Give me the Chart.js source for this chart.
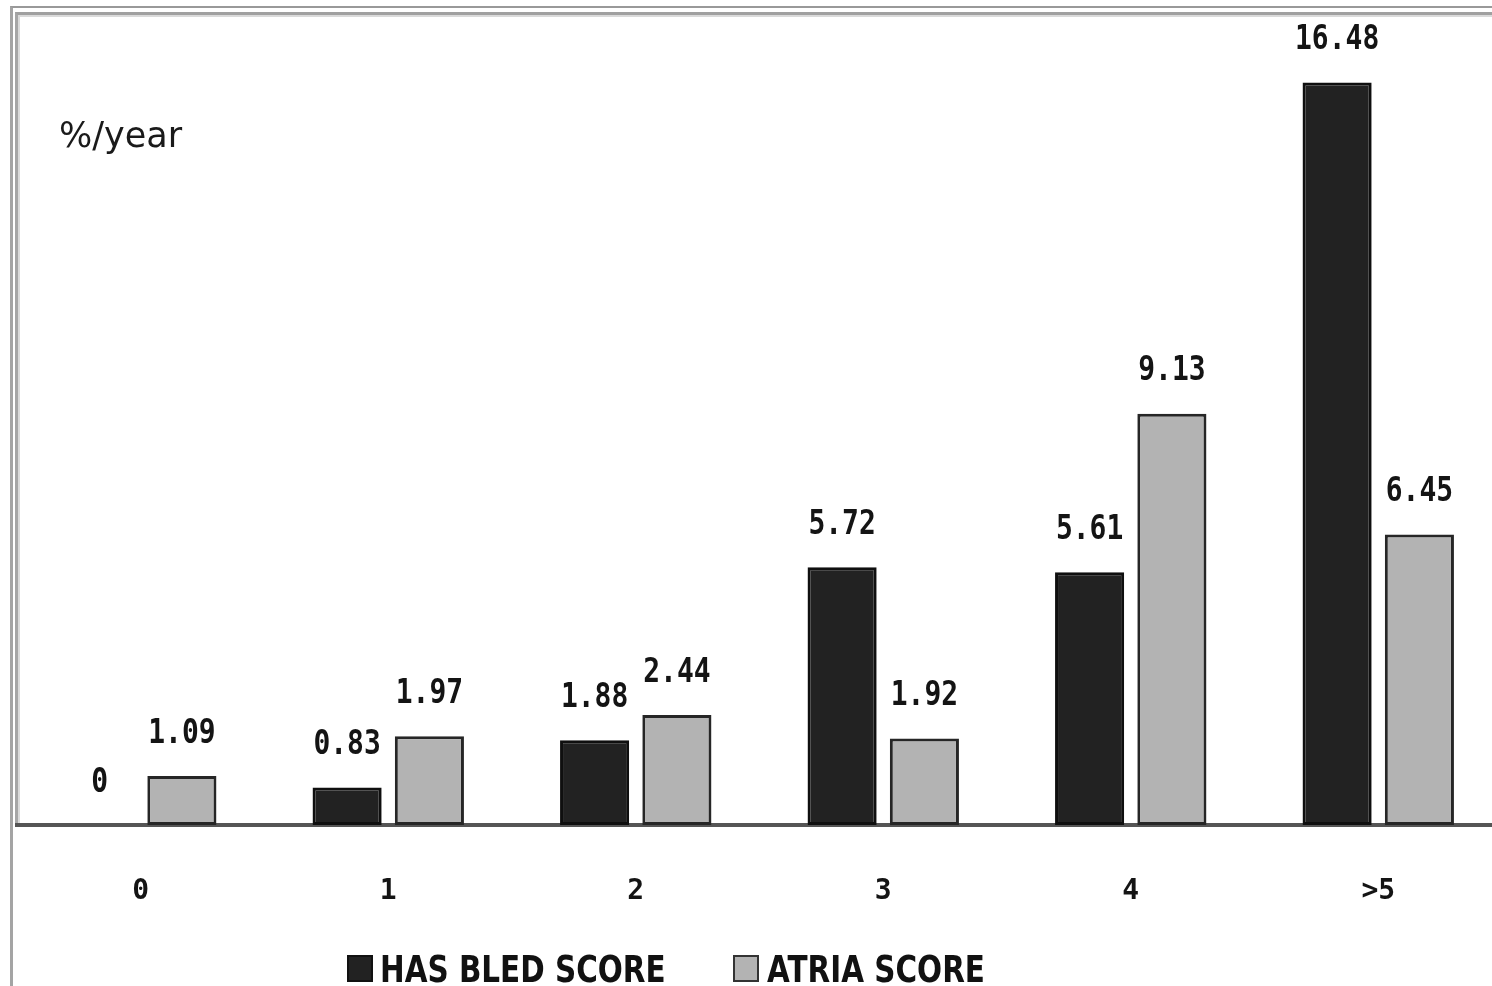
<!DOCTYPE html>
<html>
<head>
<meta charset="utf-8">
<script src="https://cdn.jsdelivr.net/npm/chart.js@4.4.1/dist/chart.umd.min.js"></script>
<style>
    html, body { margin: 0; padding: 0; background: #fff; overflow: hidden; }
    #wrap { position: relative; width: 1492px; height: 986px; overflow: hidden; background: #fff; }
    #bleedChart { position: absolute; left: 0; top: 0; }
    .frame-outer { position: absolute; left: 10px; top: 6px; width: 1600px; height: 1200px; border-top: 2px solid #999; border-left: 3px solid #a4a4a4; }
    .frame-inner { position: absolute; left: 15px; top: 12px; width: 1600px; height: 811px; border-top: 3px solid #a0a0a0; border-left: 3px solid #a6a6a6; box-shadow: inset 2px 2px 0 #dadada; }
    .unit { position: absolute; left: 59px; top: 115px; font: 35px "DejaVu Sans", sans-serif; color: #1a1a1a; }
    .legend-box { position: absolute; top: 955px; width: 22px; height: 23px; border: 2px solid #111; }
    .legend-text { position: absolute; top: 950px; font: bold 38px/38px "DejaVu Sans", sans-serif; color: #111; white-space: nowrap; transform: scaleX(0.775); transform-origin: left top; }
</style>
</head>
<body>
<div id="wrap">
    <div class="frame-outer"></div>
    <div class="frame-inner"></div>
    <canvas id="bleedChart" width="1504" height="986"></canvas>
    <div class="unit">%/year</div>
    <div class="legend-box" style="left:347px; background:#222;"></div>
    <div class="legend-text" style="left:380px;">HAS BLED SCORE</div>
    <div class="legend-box" style="left:733px; background:#b3b3b3; border-color:#333;"></div>
    <div class="legend-text" style="left:767px;">ATRIA SCORE</div>
</div>
<script>
    const scoreLabels = ["0", "1", "2", "3", "4", ">5"];
    const hasBledValues = [0, 0.83, 1.88, 5.72, 5.61, 16.48];
    const atriaValues = [1.09, 1.97, 2.44, 1.92, 9.13, 6.45];
    const seriesNames = ["HAS BLED SCORE", "ATRIA SCORE"];

    // value labels above each bar (Chart.js has no built-in datalabels)
    const valueLabels = {
        id: "valueLabels",
        afterDatasetsDraw(chart) {
            const { ctx } = chart;
            ctx.save();
            ctx.font = 'bold 28px "DejaVu Sans Mono", monospace';
            ctx.fillStyle = "#141414";
            ctx.textAlign = "center";
            ctx.textBaseline = "middle";
            chart.data.datasets.forEach((ds, i) => {
                chart.getDatasetMeta(i).data.forEach((bar, j) => {
                    ctx.save();
                    ctx.translate(bar.x, bar.y - 42);
                    ctx.scale(1, 1.2);
                    ctx.fillText(String(ds.data[j]), 0, 0);
                    ctx.restore();
                });
            });
            ctx.restore();
        }
    };

    new Chart(document.getElementById("bleedChart"), {
        type: "bar",
        data: {
            labels: scoreLabels,
            datasets: [{
                label: seriesNames[0],
                data: hasBledValues,
                backgroundColor: "#222222",
                borderColor: "#0f0f0f",
                borderWidth: 3,
                borderSkipped: false
            }, {
                label: seriesNames[1],
                data: atriaValues,
                backgroundColor: "#b3b3b3",
                borderColor: "#262626",
                borderWidth: 3,
                borderSkipped: false
            }]
        },
        options: {
            responsive: false,
            animation: false,
            devicePixelRatio: 1,
            layout: { padding: { left: 17, right: 2, top: 14, bottom: 0 } },
            datasets: { bar: { categoryPercentage: 0.665, barPercentage: 0.84 } },
            scales: {
                x: {
                    z: 1,
                    grid: { display: false, drawTicks: false },
                    border: { display: true, color: "#555", width: 4 },
                    ticks: {
                        color: "#141414",
                        padding: 50,
                        font: { family: '"DejaVu Sans Mono", monospace', size: 28, weight: "bold" }
                    },
                    afterFit(scale) { scale.height = 161; }
                },
                y: { display: false, min: 0, max: 18 }
            },
            plugins: {
                legend: { display: false },
                tooltip: { enabled: false }
            }
        },
        plugins: [valueLabels]
    });
</script>
</body>
</html>
